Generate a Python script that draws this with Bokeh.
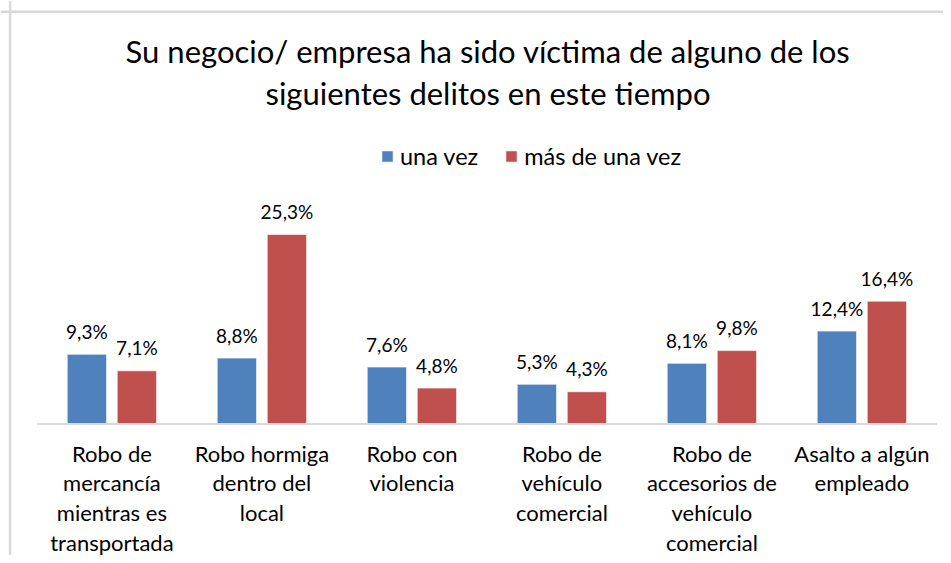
from bokeh.plotting import figure
from bokeh.models import ColumnDataSource, Range1d, Span, Legend, LegendItem
from bokeh.core.properties import value
from bokeh.embed import file_html
from bokeh.resources import INLINE

# ---------------- data ----------------
categories = [
    "Robo de\nmercancía\nmientras es\ntransportada",
    "Robo hormiga\ndentro del\nlocal",
    "Robo con\nviolencia",
    "Robo de\nvehículo\ncomercial",
    "Robo de\naccesorios de\nvehículo\ncomercial",
    "Asalto a algún\nempleado",
]
una_vez = [9.3, 8.8, 7.6, 5.3, 8.1, 12.4]
mas_de_una_vez = [7.1, 25.3, 4.8, 4.3, 9.8, 16.4]
series_names = ["una vez", "más de una vez"]
title_text = "Su negocio/ empresa ha sido víctima de alguno de los\nsiguientes delitos en este tiempo"

# ---------------- layout ----------------
FONT = "Lato"
W, H = 943, 555
PAGE0 = 0
CX0, DX = 111.4, 150.0      # picture x of first category centre, category width
BASE, PPU = 423.5, 7.49     # picture y of baseline, pixels per percentage unit
BLUE, RED = "#4F81BD", "#C0504D"
OFF, BW = 0.1667, 0.262


def px_to_x(px):
    return (px - CX0) / DX


def py_to_y(py):
    return (BASE - py) / PPU


p = figure(
    width=W, height=H, output_backend="svg", toolbar_location=None,
    x_axis_location=None, y_axis_location=None, min_border=0,
    x_range=Range1d(px_to_x(PAGE0), px_to_x(PAGE0 + W)),
    y_range=Range1d(py_to_y(PAGE0 + H), py_to_y(PAGE0)),
    outline_line_color=None, background_fill_color="white",
    border_fill_color="white",
)
p.grid.visible = False

idx = list(range(len(categories)))
fmt = lambda v: f"{v:.1f}%".replace(".", ",")
src = ColumnDataSource(dict(
    xb=[i - OFF for i in idx], xr=[i + OFF for i in idx],
    xc=idx, cat=categories,
    a=una_vez, b=mas_de_una_vez,
    la=[fmt(v) for v in una_vez], lb=[fmt(v) for v in mas_de_una_vez],
))

r1 = p.vbar(x="xb", top="a", bottom=0, width=BW, source=src,
            fill_color=BLUE, line_color="white", line_width=0.6)
r2 = p.vbar(x="xr", top="b", bottom=0, width=BW, source=src,
            fill_color=RED, line_color="white", line_width=0.6)

# baseline
p.segment(x0=[-0.5], y0=[0], x1=[len(categories) - 0.5], y1=[0],
          line_color="#d9d9d9", line_width=2)

# chart border (top / left)
p.add_layout(Span(location=py_to_y(11.3), dimension="width",
                  line_color="#d9d9d9", line_width=2.5))
p.add_layout(Span(location=px_to_x(9.6), dimension="height",
                  line_color="#d9d9d9", line_width=2.5))

# data labels
for xcol, lcol, ycol in (("xb", "la", "a"), ("xr", "lb", "b")):
    p.text(x=xcol, y=ycol, text=lcol, source=src, text_align="center",
           text_baseline="alphabetic", y_offset=-23,
           text_font=value(FONT), text_font_size="19px", text_color="#000000")

# category labels
p.text(x="xc", y=py_to_y(439), text="cat", source=src, text_align="center",
       text_baseline="top", text_line_height=1.10,
       text_font=value(FONT), text_font_size="22px", text_color="#000000")

# title
p.text(x=[px_to_x(487.5)], y=[py_to_y(71.5)], text=[title_text],
       text_align="center", text_baseline="middle", text_line_height=1.12,
       text_font=value(FONT), text_font_size="31px", text_color="#000000")

legend = Legend(
    items=[LegendItem(label=series_names[0], renderers=[r1]),
           LegendItem(label=series_names[1], renderers=[r2])],
    orientation="horizontal", location=(380, 385),
    glyph_width=14, glyph_height=14, label_standoff=6, spacing=26,
    padding=0, margin=0, border_line_color=None, background_fill_alpha=0,
    label_text_font=FONT, label_text_font_size="23.5px", label_text_color="#000000",
)
p.add_layout(legend)

open("out.html", "w").write(file_html(p, INLINE))
